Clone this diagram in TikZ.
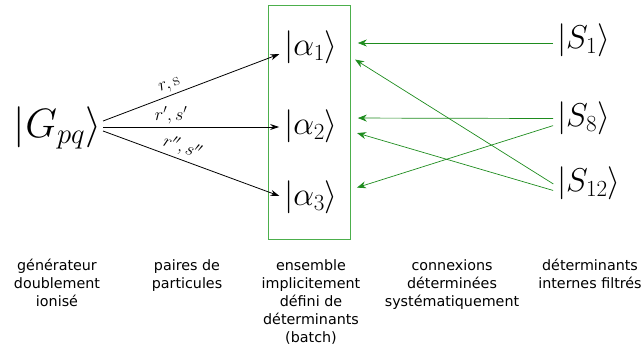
\documentclass[tikz,border=0pt]{standalone}
\usepackage{fix-cm}
\usepackage{fontspec}
\newfontfamily\labfont{DejaVu Sans}
\usetikzlibrary{arrows.meta}
\definecolor{boxgreen}{RGB}{76,175,76}
\definecolor{arrgreen}{RGB}{30,140,30}
\begin{document}
\begin{tikzpicture}[x=1pt,y=-1pt,
 ket/.style={inner sep=2pt, outer sep=0pt},
 ketbig/.style={ket, font=\fontsize{41}{48}\selectfont},
 ketmid/.style={ket, font=\fontsize{33}{40}\selectfont},
 blkarrow/.style={draw=black, line width=0.8pt, -{Stealth[length=9pt,width=6pt]}, shorten >=3pt},
 grnarrow/.style={draw=arrgreen, line width=0.7pt, -{Stealth[length=9pt,width=7pt]}, shorten >=18pt, shorten <=2pt},
 edgelab/.style={font=\fontsize{18}{21}\selectfont, sloped, above, inner sep=3pt},
 caption/.style={font=\labfont\fontsize{14.3}{18}\selectfont, align=center, anchor=north, inner sep=0pt}]
\useasboundingbox (0,0) rectangle (644,349);
% batch box
\node[draw=boxgreen, line width=0.9pt, minimum width=82pt, minimum height=234pt, inner sep=0pt] (box) at (309,122) {};
% nodes
\node[ketbig] (G) at (57.5,128) {$|G_{pq}\rangle$};
\node[ketmid] (a1) at (311,47) {$|\alpha_1\rangle$};
\node[ketmid] (a2) at (311,126) {$|\alpha_2\rangle$};
\node[ketmid] (a3) at (311,197) {$|\alpha_3\rangle$};
\node[ketmid, anchor=west] (S1) at (555,40) {$|S_1\rangle$};
\node[ketmid, anchor=west] (S8) at (555,118.5) {$|S_8\rangle$};
\node[ketmid, anchor=west] (S12) at (555,183.5) {$|S_{12}\rangle$};
% black arrows
\draw[blkarrow] ([yshift=7pt]G.east) -- node[edgelab, pos=.39] {$r,\mathrm{s}$} ([yshift=-6pt]a1.west);
\draw[blkarrow] ([yshift=1pt]G.east) -- node[edgelab, pos=.38] {$r',s'$} ([yshift=-1pt]a2.west);
\draw[blkarrow] ([yshift=-3pt]G.east) -- node[edgelab, pos=.42] {$r'',s''$} (a3.west);
% green arrows
\draw[grnarrow] ([yshift=-3pt]S1.west) -- ([yshift=4pt]a1.east);
\draw[grnarrow] ([yshift=-1.5pt]S12.west) -- ([yshift=-3pt]a1.east);
\draw[grnarrow] (S8.west) -- ([yshift=8pt]a2.east);
\draw[grnarrow] ([yshift=-7.5pt]S12.west) -- ([yshift=-2pt]a2.east);
\draw[grnarrow] ([yshift=-6.5pt]S8.west) -- ([yshift=4pt]a3.east);
% captions
\node[caption] (c1) at (57,259) {générateur\\doublement\\ionisé};
\node[caption] (c2) at (187,259) {paires de\\particules};
\node[caption] (c3) at (311,259) {ensemble\\implicitement\\défini de\\déterminants\\(batch)};
\node[caption] (c4) at (452,259) {connexions\\déterminées\\systématiquement};
\node[caption] (c5) at (590,259) {déterminants\\internes filtrés};
\end{tikzpicture}
\end{document}
